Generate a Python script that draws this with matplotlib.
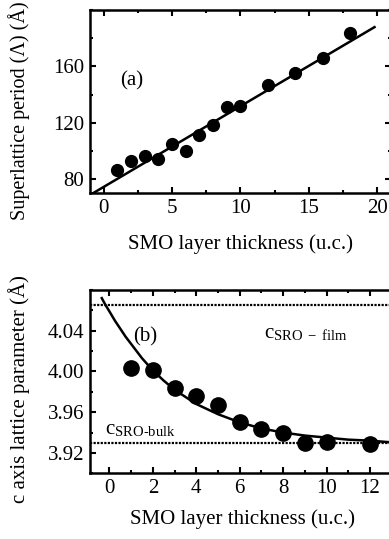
import matplotlib
matplotlib.use("Agg")
import matplotlib.pyplot as plt
from matplotlib.ticker import MultipleLocator

# panel (a): superlattice period vs SMO thickness
smo_a = [1, 2, 3, 4, 5, 6, 7, 8, 9, 10, 12, 14, 16, 18]
period = [86, 93, 96, 94, 105, 100, 111, 118, 131, 132, 147, 155, 166, 184]
fit_a_x = [-1.0, 19.8]
fit_a_y = [68.5, 188.0]

# panel (b): c axis lattice parameter vs SMO thickness
smo_b = [1, 2, 3, 4, 5, 6, 7, 8, 9, 10, 12]
c_axis = [4.003, 4.001, 3.984, 3.976, 3.967, 3.950, 3.943, 3.940, 3.930, 3.931, 3.929]
fit_b_x = [-0.35, -0.2, 0, 0.25, 0.5, 0.75, 1, 1.25, 1.5, 2, 2.5, 3, 3.5, 4, 5, 6,
           7, 8, 9, 10, 11, 12, 13.2]
fit_b_y = [4.072, 4.066, 4.059, 4.050, 4.042, 4.034, 4.027, 4.020, 4.013, 4.001,
           3.991, 3.982, 3.975, 3.968, 3.958, 3.950, 3.944, 3.940, 3.937, 3.935,
           3.933, 3.932, 3.930]
c_film = 4.065
c_bulk = 3.930

plt.rcParams['font.family'] = ['Liberation Serif', 'DejaVu Serif']
plt.rcParams['mathtext.fontset'] = 'stix'

fig = plt.figure(figsize=(3.89, 5.39), dpi=100)
ax1 = fig.add_axes([0.231, 0.642, 0.774, 0.339])
ax2 = fig.add_axes([0.231, 0.122, 0.787, 0.340])


def style(ax):
    for s in ax.spines.values():
        s.set_linewidth(1.8)
    ax.tick_params(which='both', direction='in', top=True, right=True, width=1.5)
    ax.tick_params(which='major', length=4, labelsize=15, pad=4)
    ax.tick_params(which='minor', length=2.5)


# (a)
ax1.plot(fit_a_x, fit_a_y, color='black', lw=1.8)
ax1.plot(smo_a, period, 'o', color='black', ms=8.5)
ax1.set_xlim(-1, 21)
ax1.set_ylim(70, 200)
ax1.xaxis.set_major_locator(MultipleLocator(5))
ax1.xaxis.set_minor_locator(MultipleLocator(2.5))
ax1.yaxis.set_minor_locator(MultipleLocator(20))
ax1.set_yticks([80, 120, 160])
ax1.set_xlabel('SMO layer thickness (u.c.)', fontsize=15, labelpad=12)
ax1.set_ylabel('Superlattice period (Λ) (Å)', fontsize=14.5)
ax1.yaxis.set_label_coords(-0.2, 0.45)
ax1.text(1.2, 150, '(a)', fontsize=15, va='center')
style(ax1)

# (b)
ax2.axhline(c_film, color='black', lw=1.6, ls=(0, (1, 0.6)))
ax2.axhline(c_bulk, color='black', lw=1.6, ls=(0, (1, 0.6)))
ax2.plot(fit_b_x, fit_b_y, color='black', lw=1.8)
ax2.plot(smo_b, c_axis, 'o', color='black', ms=11)
ax2.set_xlim(-0.9, 13.2)
ax2.set_ylim(3.90, 4.08)
ax2.xaxis.set_major_locator(MultipleLocator(2))
ax2.xaxis.set_minor_locator(MultipleLocator(1))
ax2.yaxis.set_minor_locator(MultipleLocator(0.02))
ax2.set_yticks([3.92, 3.96, 4.00, 4.04])
ax2.set_xlabel('SMO layer thickness (u.c.)', fontsize=15, labelpad=8)
ax2.set_ylabel('c axis lattice parameter (Å)', fontsize=15)
ax2.yaxis.set_label_coords(-0.196, 0.46)
ax2.text(1.1, 4.034, '(b)', fontsize=15, va='center')
ax2.text(7.1, 4.037, r'c$_{\mathregular{SRO\ -\ film}}$', fontsize=15, va='center')
ax2.text(-0.2, 3.933, r'c$_{\mathregular{SRO\text{-}bulk}}$', fontsize=15, va='bottom')
style(ax2)

fig.savefig('out.png', dpi=100)
